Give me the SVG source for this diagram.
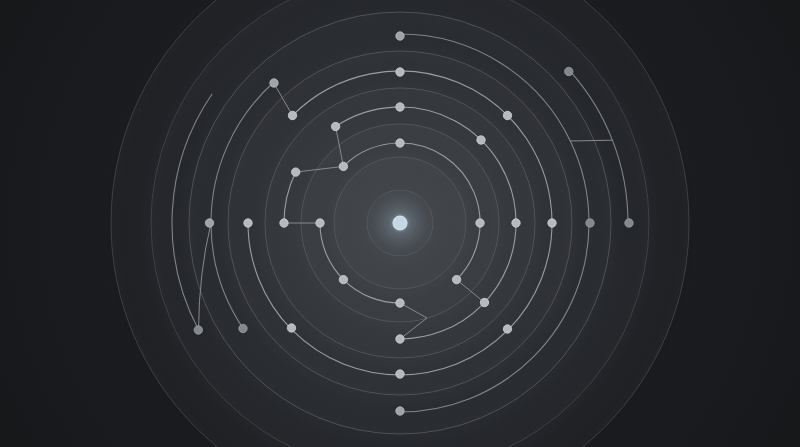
<svg xmlns="http://www.w3.org/2000/svg" width="800" height="447" viewBox="0 0 800 447">
  <defs>
    <radialGradient id="bg" cx="400" cy="223" r="470" gradientUnits="userSpaceOnUse">
      <stop offset="0" stop-color="#30343a"/>
      <stop offset="0.3" stop-color="#23262b"/>
      <stop offset="0.62" stop-color="#1a1c20"/>
      <stop offset="1" stop-color="#151719"/>
    </radialGradient>
    <radialGradient id="glow" cx="400" cy="223" r="30" gradientUnits="userSpaceOnUse">
      <stop offset="0" stop-color="#cfe3f2" stop-opacity="0.7"/>
      <stop offset="0.35" stop-color="#9fb8cc" stop-opacity="0.25"/>
      <stop offset="1" stop-color="#7d93a6" stop-opacity="0"/>
    </radialGradient>
    <filter id="shadow" x="-20%" y="-20%" width="140%" height="140%">
      <feDropShadow dx="0" dy="3" stdDeviation="4" flood-color="#000" flood-opacity="0.4"/>
    </filter>
    <style>
      .disk { fill: #ffffff; fill-opacity: 0.014; stroke: #5a5e65; stroke-width: 0.8; }
      .disk.out { stroke: #464a50; }
      .arc { fill: none; stroke: #9a9ea4; stroke-width: 1.1; stroke-linecap: round; }
      .arc.dim { stroke: #80848a; }
      .link { fill: none; stroke: #868a90; stroke-width: 1; stroke-linecap: round; }
      .node circle { fill: #b6bac0; stroke: #d0d3d7; stroke-width: 0.8; }
      .node.mid circle { fill: #a0a4aa; stroke: #babdc1; }
      .node.dim circle { fill: #84878c; stroke: #9c9fa3; }
    </style>
  </defs>

  <rect x="0" y="0" width="800" height="447" fill="url(#bg)"/>

  <g id="rings" filter="url(#shadow)">
    <circle class="disk out" cx="400" cy="223" r="289"/>
    <circle class="disk out" cx="400" cy="223" r="249"/>
    <circle class="disk" cx="400" cy="223" r="211"/>
    <circle class="disk" cx="400" cy="223" r="172"/>
    <circle class="disk" cx="400" cy="223" r="135"/>
    <circle class="disk" cx="400" cy="223" r="99"/>
    <circle class="disk" cx="400" cy="223" r="66"/>
    <circle class="disk" cx="400" cy="223" r="33"/>
  </g>

  <g id="connectors">
    <!-- ring 1 (r=80) -->
    <path class="arc" d="M343.4 166.4 A80 80 0 0 1 400 143 A80 80 0 0 1 456.6 279.6"/>
    <path class="arc" d="M320 223 A80 80 0 0 0 400 303"/>
    <!-- ring 2 (r=116) -->
    <path class="arc" d="M335.6 126.5 A116 116 0 0 1 516 223 A116 116 0 0 1 400 339"/>
    <path class="arc" d="M295.7 172.1 A116 116 0 0 0 284 223"/>
    <!-- ring 3 (r=152) -->
    <path class="arc" d="M292.5 115.5 A152 152 0 0 1 552 223 A152 152 0 0 1 400 375 A152 152 0 0 1 248 223"/>
    <!-- ring 4 (r=189) -->
    <path class="arc dim" d="M400 34 A189 189 0 0 1 570.3 141 A189 189 0 0 1 589 223 A189 189 0 0 1 400 412"/>
    <path class="arc dim" d="M273.5 82.5 A189 189 0 0 0 211 223 A189 189 0 0 0 242.9 328.1"/>
    <!-- ring 5 (r=228) -->
    <path class="arc dim" d="M569.6 70.6 A228 228 0 0 1 628 223"/>
    <path class="arc dim" d="M198.5 329.7 A228 228 0 0 1 211.9 94.2"/>
    <!-- straight links -->
    <polyline class="link" points="400,303 427,318 400,339"/>
    <line class="link" x1="456.6" y1="279.6" x2="484.5" y2="302.5"/>
    <line class="link" x1="343.4" y1="166.4" x2="335.6" y2="126.5"/>
    <line class="link" x1="343.4" y1="166.4" x2="295.7" y2="172.1"/>
    <line class="link" x1="284" y1="223" x2="320" y2="223"/>
    <line class="link" x1="273.5" y1="82.5" x2="292.5" y2="115.5"/>
    <line class="link" x1="570.3" y1="141" x2="612.4" y2="140.2"/>
    <path class="link" d="M211 223 Q199 272 198.5 329.7"/>
  </g>

  <g id="center">
    <circle cx="400" cy="223" r="30" fill="url(#glow)"/>
    <circle cx="400" cy="223" r="7" fill="#c4d7e4" stroke="#e0ebf3" stroke-width="1"/>
  </g>

  <!-- ring 1 nodes -->
  <g id="n1-top" class="node"><circle cx="400" cy="143" r="4.2"/></g>
  <g id="n1-bottom" class="node"><circle cx="400" cy="303" r="4.2"/></g>
  <g id="n1-left" class="node"><circle cx="320" cy="223" r="4.2"/></g>
  <g id="n1-right" class="node"><circle cx="480" cy="223" r="4.2"/></g>
  <g id="n1-nw" class="node"><circle cx="343.4" cy="166.4" r="4.2"/></g>
  <g id="n1-sw" class="node"><circle cx="343.4" cy="279.6" r="4.2"/></g>
  <g id="n1-se" class="node"><circle cx="456.6" cy="279.6" r="4.2"/></g>
  <!-- ring 2 nodes -->
  <g id="n2-top" class="node"><circle cx="400" cy="107" r="4.2"/></g>
  <g id="n2-bottom" class="node"><circle cx="400" cy="339" r="4.2"/></g>
  <g id="n2-left" class="node"><circle cx="284" cy="223" r="4.2"/></g>
  <g id="n2-right" class="node"><circle cx="516" cy="223" r="4.2"/></g>
  <g id="n2-nnw" class="node"><circle cx="335.6" cy="126.5" r="4.2"/></g>
  <g id="n2-ne" class="node"><circle cx="481" cy="140" r="4.2"/></g>
  <g id="n2-wnw" class="node"><circle cx="295.7" cy="172.1" r="4.2"/></g>
  <g id="n2-se" class="node"><circle cx="484.5" cy="302.5" r="4.2"/></g>
  <!-- ring 3 nodes -->
  <g id="n3-top" class="node"><circle cx="400" cy="72" r="4.2"/></g>
  <g id="n3-bottom" class="node"><circle cx="400" cy="374" r="4.2"/></g>
  <g id="n3-left" class="node"><circle cx="248" cy="223" r="4.2"/></g>
  <g id="n3-right" class="node"><circle cx="552" cy="223" r="4.2"/></g>
  <g id="n3-nw" class="node"><circle cx="292.5" cy="115.5" r="4.2"/></g>
  <g id="n3-ne" class="node"><circle cx="507.5" cy="115.5" r="4.2"/></g>
  <g id="n3-se" class="node"><circle cx="507.5" cy="329" r="4.2"/></g>
  <g id="n3-sw" class="node"><circle cx="291.5" cy="328" r="4.2"/></g>
  <!-- ring 4 nodes -->
  <g id="n4-top" class="node mid"><circle cx="400" cy="36" r="4.2"/></g>
  <g id="n4-bottom" class="node mid"><circle cx="400" cy="411" r="4.2"/></g>
  <g id="n4-left" class="node mid"><circle cx="209.5" cy="223" r="4.2"/></g>
  <g id="n4-right" class="node dim"><circle cx="590" cy="223" r="4.2"/></g>
  <g id="n4-nw" class="node mid"><circle cx="274" cy="83" r="4.2"/></g>
  <g id="n4-sw" class="node dim"><circle cx="243" cy="328.5" r="4.2"/></g>
  <!-- ring 5 nodes -->
  <g id="n5-right" class="node dim"><circle cx="629" cy="223" r="4.2"/></g>
  <g id="n5-ne" class="node dim"><circle cx="568.8" cy="71.5" r="4.2"/></g>
  <g id="n5-sw" class="node dim"><circle cx="198.3" cy="330" r="4.2"/></g>
</svg>
